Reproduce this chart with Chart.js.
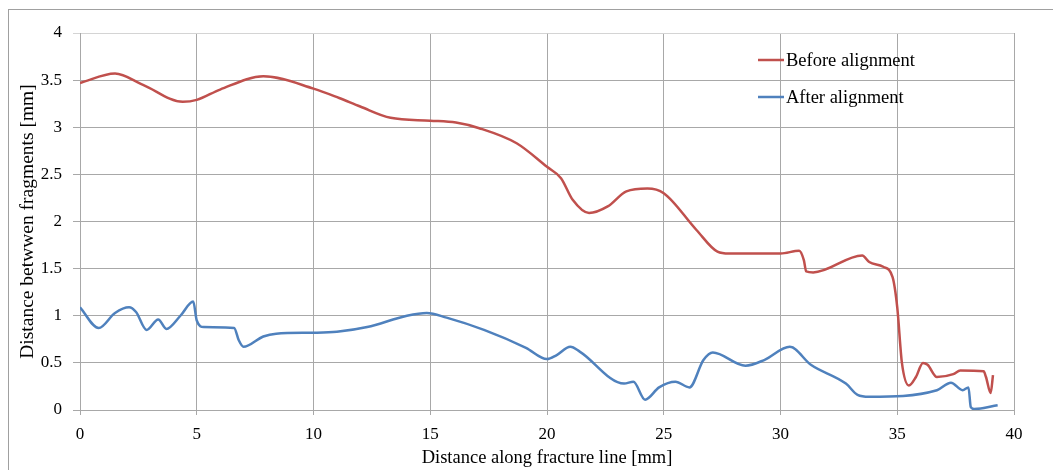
<!DOCTYPE html>
<html lang="en">
<head>
    <meta charset="UTF-8">
    <title>Distance between fragments along fracture line</title>
    <script src="https://cdn.jsdelivr.net/npm/chart.js"></script>
    <style>
        body { margin: 0; background: #fff; }
        #wrap { width: 1053px; height: 470px; position: relative; }
    </style>
</head>
<body>
    <div id="wrap"><canvas id="chart" width="1053" height="470"></canvas></div>

    <script>
        // Before alignment (red)
        const xBefore = [0, 1.5, 2.7, 4.4, 5.0, 6.0, 7.85, 10.0, 11.1, 12.0, 13.3, 15.0, 16.1, 17.1, 18.7, 20.0, 20.6, 21.1, 21.8, 22.6, 23.4, 24.3, 25.0, 26.4, 27.3, 27.8, 30.0, 30.8, 31.0, 31.1, 31.4, 33.5, 33.8, 34.4, 34.8, 35.0, 35.2, 35.5, 35.8, 36.1, 36.3, 36.7, 37.4, 37.7, 38.7, 38.8, 39.0, 39.1];
        const yBefore = [3.47, 3.57, 3.45, 3.27, 3.29, 3.40, 3.54, 3.41, 3.31, 3.22, 3.10, 3.07, 3.05, 2.99, 2.83, 2.58, 2.46, 2.23, 2.09, 2.16, 2.32, 2.35, 2.30, 1.91, 1.68, 1.66, 1.66, 1.69, 1.59, 1.47, 1.46, 1.64, 1.57, 1.52, 1.41, 1.09, 0.50, 0.26, 0.35, 0.50, 0.48, 0.35, 0.38, 0.42, 0.41, 0.35, 0.18, 0.37];

        // After alignment (blue)
        const xAfter = [0, 0.8, 1.5, 2.1, 2.4, 2.85, 3.35, 3.7, 4.3, 4.85, 5.0, 5.3, 6.6, 6.8, 7.0, 7.85, 8.4, 10.0, 11.0, 12.3, 14.0, 14.85, 15.7, 17.3, 19.1, 20.0, 20.4, 21.0, 21.4, 23.3, 23.7, 24.2, 24.8, 25.5, 26.1, 26.7, 27.1, 28.5, 29.3, 30.4, 31.3, 32.8, 33.3, 33.8, 36.7, 37.3, 37.8, 38.05, 38.15, 38.3, 39.3];
        const yAfter = [1.09, 0.87, 1.03, 1.09, 1.04, 0.85, 0.96, 0.86, 1.00, 1.15, 0.95, 0.88, 0.87, 0.74, 0.67, 0.78, 0.81, 0.82, 0.83, 0.88, 1.00, 1.03, 0.98, 0.85, 0.66, 0.54, 0.58, 0.67, 0.62, 0.28, 0.30, 0.11, 0.24, 0.30, 0.24, 0.53, 0.61, 0.47, 0.53, 0.67, 0.48, 0.28, 0.16, 0.14, 0.21, 0.29, 0.21, 0.24, 0.03, 0.01, 0.05];

        const seriesLabels = ['Before alignment', 'After alignment'];
        const seriesColors = ['#C0504D', '#4F81BD'];

        const serif = '"Liberation Serif", "DejaVu Serif", serif';

        // light frame round the whole figure
        const framePlugin = {
            id: 'frame',
            beforeDraw(chart) {
                const ctx = chart.ctx;
                ctx.save();
                ctx.strokeStyle = '#a0a0a0';
                ctx.lineWidth = 1;
                ctx.strokeRect(8.5, 9.5, 1100, 500);
                ctx.restore();
            }
        };

        // legend drawn inside the plot, top right
        const legendPlugin = {
            id: 'innerLegend',
            afterDraw(chart) {
                const ctx = chart.ctx;
                ctx.save();
                ctx.font = '18.5px ' + serif;
                ctx.textBaseline = 'middle';
                chart.data.datasets.forEach((ds, i) => {
                    const y = 60 + i * 37;
                    ctx.strokeStyle = ds.borderColor;
                    ctx.lineWidth = 2.5;
                    ctx.beginPath();
                    ctx.moveTo(758, y);
                    ctx.lineTo(784, y);
                    ctx.stroke();
                    ctx.fillStyle = '#000';
                    ctx.fillText(ds.label, 786, y + 1);
                });
                ctx.restore();
            }
        };

        const toPoints = (xs, ys) => xs.map((x, i) => ({ x, y: ys[i] }));

        new Chart(document.getElementById('chart').getContext('2d'), {
            type: 'line',
            data: {
                datasets: [
                    {
                        label: seriesLabels[0],
                        data: toPoints(xBefore, yBefore),
                        borderColor: seriesColors[0],
                        borderWidth: 2.5,
                        pointRadius: 0,
                        cubicInterpolationMode: 'monotone',
                        fill: false
                    },
                    {
                        label: seriesLabels[1],
                        data: toPoints(xAfter, yAfter),
                        borderColor: seriesColors[1],
                        borderWidth: 2.5,
                        pointRadius: 0,
                        cubicInterpolationMode: 'monotone',
                        fill: false
                    }
                ]
            },
            options: {
                responsive: false,
                animation: false,
                events: [],
                layout: { padding: { top: 33, right: 39, left: 0, bottom: 0 } },
                plugins: {
                    legend: { display: false },
                    tooltip: { enabled: false }
                },
                scales: {
                    x: {
                        type: 'linear',
                        min: 0,
                        max: 40,
                        afterFit: s => { s.height = 60; },
                        ticks: {
                            stepSize: 5,
                            padding: 9,
                            color: '#000',
                            font: { family: serif, size: 17 },
                            maxRotation: 0
                        },
                        grid: { color: '#a8a8a8', tickLength: 5 },
                        border: { color: '#a8a8a8' },
                        title: {
                            display: true,
                            text: 'Distance along fracture line [mm]',
                            color: '#000',
                            font: { family: serif, size: 18.5 },
                            padding: { top: 0, bottom: 1 }
                        }
                    },
                    y: {
                        min: 0,
                        max: 4,
                        afterFit: s => { s.width = 80; },
                        ticks: {
                            stepSize: 0.5,
                            padding: 11,
                            color: '#000',
                            font: { family: serif, size: 17 },
                            callback: v => String(v)
                        },
                        grid: {
                            color: c => (c.tick && c.tick.value === 4 ? '#d4d4d4' : '#a8a8a8'),
                            tickLength: 7
                        },
                        border: { color: '#a8a8a8' },
                        title: {
                            display: true,
                            text: 'Distance betwwen fragments [mm]',
                            color: '#000',
                            font: { family: serif, size: 19.5 },
                            padding: { top: 16, bottom: 0 }
                        }
                    }
                }
            },
            plugins: [framePlugin, legendPlugin]
        });
    </script>
</body>
</html>
